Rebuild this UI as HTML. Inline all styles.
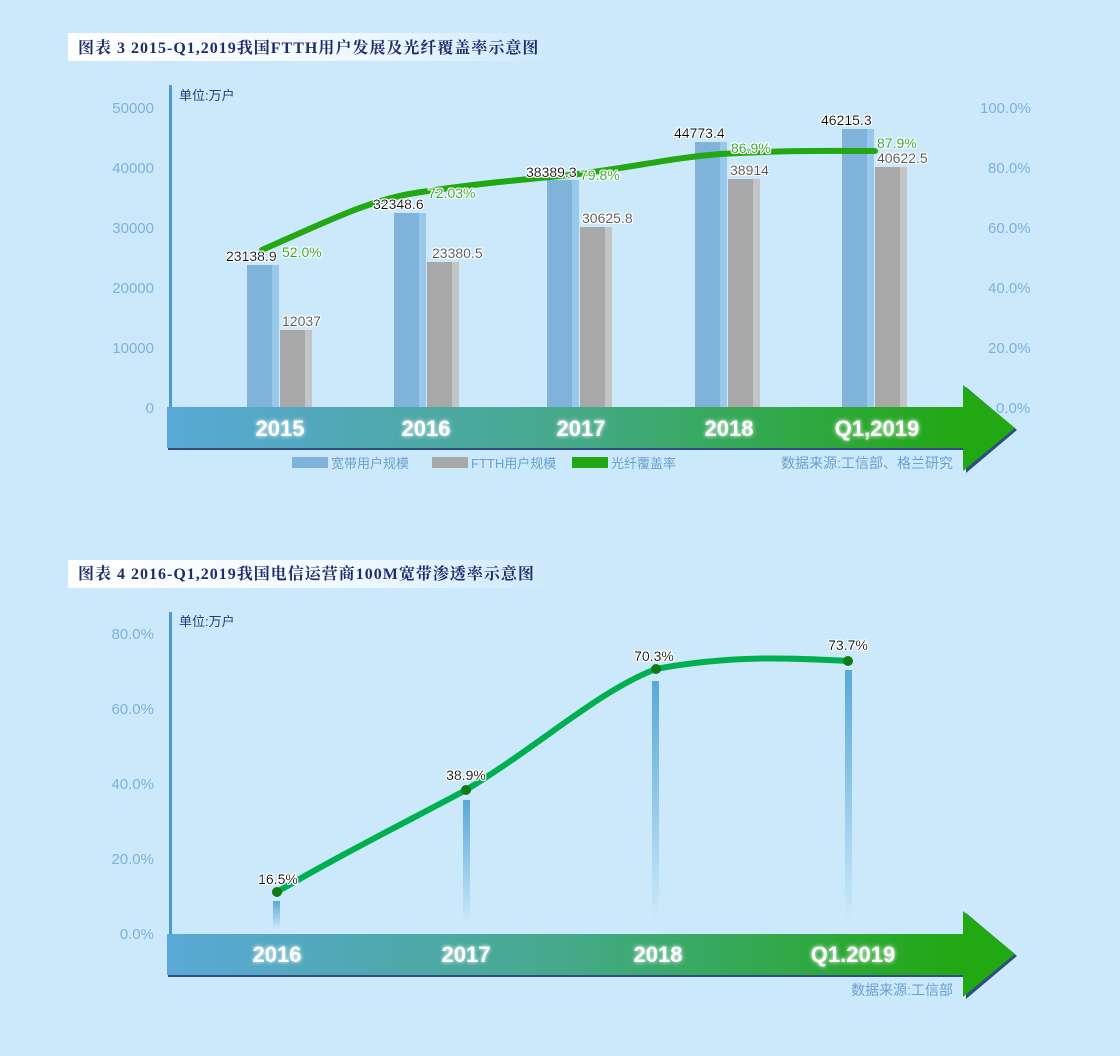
<!DOCTYPE html>
<html><head><meta charset="utf-8"><style>
html,body{margin:0;padding:0;background:#cce9fb;}
body{width:1120px;height:1056px;overflow:hidden;font-family:"Liberation Sans","Noto Sans CJK SC",sans-serif;}
</style></head><body>
<svg width="1120" height="1056" xmlns="http://www.w3.org/2000/svg" style="position:absolute;left:0;top:0">
<defs>
<linearGradient id="band" x1="0" x2="1"><stop offset="0" stop-color="#5aa8d8"/><stop offset="0.5" stop-color="#45a98a"/><stop offset="1" stop-color="#22a812"/></linearGradient>
<linearGradient id="ttl" x1="0" x2="1"><stop offset="0" stop-color="#ffffff"/><stop offset="0.6" stop-color="#f0f8ff"/><stop offset="1" stop-color="#cce9fb"/></linearGradient>
<linearGradient id="vb" x1="0" y1="0" x2="0" y2="1"><stop offset="0" stop-color="#5aa8d8"/><stop offset="1" stop-color="#cce9fb"/></linearGradient>
<filter id="glow"><feMorphology operator="dilate" radius="1" in="SourceAlpha" result="d"/><feFlood flood-color="#fff"/><feComposite in2="d" operator="in"/><feMerge><feMergeNode/><feMergeNode in="SourceGraphic"/></feMerge></filter>
</defs>
<!-- Chart 1 title -->
<rect x="68" y="33" width="480" height="28" fill="url(#ttl)"/>
<text x="78" y="53" font-family="Liberation Serif,'Noto Serif CJK SC',serif" font-weight="bold" font-size="16" letter-spacing="1" fill="#1f2d6b">图表 3 2015-Q1,2019我国FTTH用户发展及光纤覆盖率示意图</text>
<rect x="169" y="85" width="3" height="325" fill="#4b9ad4"/>
<text x="179" y="100" font-size="13" fill="#2a3a7a">单位:万户</text>
<g font-size="15" fill="#7fb0dc" text-anchor="end">
<text x="154" y="113">50000</text><text x="154" y="173">40000</text><text x="154" y="233">30000</text><text x="154" y="293">20000</text><text x="154" y="353">10000</text><text x="154" y="413">0</text>
</g>
<g font-size="15" fill="#7fb0dc">
<text x="980" y="113">100.0%</text><text x="988" y="173">80.0%</text><text x="988" y="233">60.0%</text><text x="988" y="293">40.0%</text><text x="988" y="353">20.0%</text><text x="996" y="413">0.0%</text>
</g>
<g>
<rect x="247" y="265" width="32" height="142" fill="#7fb3da"/><rect x="272" y="265" width="7" height="142" fill="#98c8ea"/>
<rect x="280" y="330" width="32" height="77" fill="#a8a8a8"/><rect x="305" y="330" width="7" height="77" fill="#c4c4c4"/>
<rect x="394" y="213" width="32" height="194" fill="#7fb3da"/><rect x="419" y="213" width="7" height="194" fill="#98c8ea"/>
<rect x="427" y="262" width="32" height="145" fill="#a8a8a8"/><rect x="452" y="262" width="7" height="145" fill="#c4c4c4"/>
<rect x="547" y="180" width="32" height="227" fill="#7fb3da"/><rect x="572" y="180" width="7" height="227" fill="#98c8ea"/>
<rect x="580" y="227" width="32" height="180" fill="#a8a8a8"/><rect x="605" y="227" width="7" height="180" fill="#c4c4c4"/>
<rect x="695" y="142" width="32" height="265" fill="#7fb3da"/><rect x="720" y="142" width="7" height="265" fill="#98c8ea"/>
<rect x="728" y="179" width="32" height="228" fill="#a8a8a8"/><rect x="753" y="179" width="7" height="228" fill="#c4c4c4"/>
<rect x="842" y="129" width="32" height="278" fill="#7fb3da"/><rect x="867" y="129" width="7" height="278" fill="#98c8ea"/>
<rect x="875" y="167" width="32" height="240" fill="#a8a8a8"/><rect x="900" y="167" width="7" height="240" fill="#c4c4c4"/>
</g>
<path d="M262,250 C330,220 370,200 415,193 C480,183 520,180 570,175 C630,168 670,158 720,154 C790,150 830,151 875,151" fill="none" stroke="#22a812" stroke-width="6" stroke-linecap="round"/>
<g font-size="14" filter="url(#glow)">
<text x="226" y="261" fill="#000">23138.9</text><text x="282" y="326" fill="#555">12037</text>
<text x="373" y="209" fill="#000">32348.6</text><text x="432" y="258" fill="#555">23380.5</text>
<text x="526" y="177" fill="#000">38389.3</text><text x="582" y="223" fill="#555">30625.8</text>
<text x="674" y="138" fill="#000">44773.4</text><text x="730" y="175" fill="#555">38914</text>
<text x="821" y="125" fill="#000">46215.3</text><text x="877" y="163" fill="#555">40622.5</text>
<text x="282" y="257" fill="#22a812">52.0%</text><text x="428" y="198" fill="#22a812">72.03%</text>
<text x="580" y="180" fill="#22a812">79.8%</text><text x="731" y="153" fill="#22a812">86.9%</text><text x="877" y="148" fill="#22a812">87.9%</text>
</g>
<rect x="168" y="409" width="800" height="41" fill="#2c4f80"/>
<path d="M966,387 L1017,430 L966,473 Z" fill="#2c4f80"/>
<rect x="167" y="407" width="798" height="41" fill="url(#band)"/>
<path d="M963,385 L1015,428 L963,471 Z" fill="#22a812"/>
<g font-size="22" font-weight="bold" fill="#fff" text-anchor="middle" style="filter:drop-shadow(0 0 2px #fff)">
<text x="280" y="436">2015</text><text x="426" y="436">2016</text><text x="581" y="436">2017</text><text x="729" y="436">2018</text><text x="877" y="436">Q1,2019</text>
</g>
<rect x="292" y="457" width="36" height="11" fill="#7fb3da"/><text x="331" y="468" font-size="13" fill="#6c9fd0">宽带用户规模</text>
<rect x="432" y="457" width="36" height="11" fill="#a8a8a8"/><text x="471" y="468" font-size="13" fill="#6c9fd0">FTTH用户规模</text>
<rect x="572" y="457" width="36" height="11" fill="#22a812"/><text x="611" y="468" font-size="13" fill="#6c9fd0">光纤覆盖率</text>
<text x="953" y="468" font-size="14" fill="#6c9fd0" text-anchor="end">数据来源:工信部、格兰研究</text>

<!-- Chart 2 -->
<rect x="68" y="560" width="480" height="28" fill="url(#ttl)"/>
<text x="78" y="579" font-family="Liberation Serif,'Noto Serif CJK SC',serif" font-weight="bold" font-size="16" letter-spacing="1" fill="#1f2d6b">图表 4 2016-Q1,2019我国电信运营商100M宽带渗透率示意图</text>
<rect x="169" y="612" width="3" height="323" fill="#4b9ad4"/>
<text x="179" y="626" font-size="13" fill="#2a3a7a">单位:万户</text>
<g font-size="15" fill="#7fb0dc" text-anchor="end">
<text x="154" y="639">80.0%</text><text x="154" y="714">60.0%</text><text x="154" y="789">40.0%</text><text x="154" y="864">20.0%</text><text x="154" y="939">0.0%</text>
</g>
<rect x="273" y="901" width="7" height="28" fill="url(#vb)"/>
<rect x="463" y="800" width="7" height="125" fill="url(#vb)"/>
<rect x="652" y="681" width="7" height="240" fill="url(#vb)"/>
<rect x="845" y="670" width="7" height="252" fill="url(#vb)"/>
<path d="M277,892 C340,855 410,820 466,790 C540,745 600,690 656,669 C730,655 790,658 848,661" fill="none" stroke="#00b050" stroke-width="6" stroke-linecap="round"/>
<g fill="#127a12"><circle cx="277" cy="892" r="5"/><circle cx="466" cy="790" r="5"/><circle cx="656" cy="669" r="5"/><circle cx="848" cy="661" r="5"/></g>
<g font-size="14" fill="#000" filter="url(#glow)" text-anchor="middle">
<text x="278" y="884">16.5%</text><text x="466" y="780">38.9%</text><text x="654" y="661">70.3%</text><text x="848" y="650">73.7%</text>
</g>
<rect x="168" y="936" width="800" height="41" fill="#2c4f80"/>
<path d="M966,913 L1017,956 L966,999 Z" fill="#2c4f80"/>
<rect x="167" y="934" width="798" height="41" fill="url(#band)"/>
<path d="M963,911 L1015,954 L963,997 Z" fill="#22a812"/>
<g font-size="22" font-weight="bold" fill="#fff" text-anchor="middle" style="filter:drop-shadow(0 0 2px #fff)">
<text x="277" y="962">2016</text><text x="466" y="962">2017</text><text x="658" y="962">2018</text><text x="853" y="962">Q1.2019</text>
</g>
<text x="953" y="995" font-size="14" fill="#6c9fd0" text-anchor="end">数据来源:工信部</text>
</svg>
</body></html>
